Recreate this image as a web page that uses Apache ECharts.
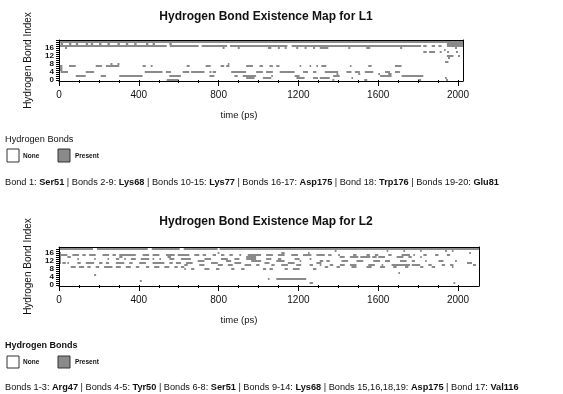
<!DOCTYPE html>
<html>
<head>
<meta charset="utf-8">
<script src="https://cdn.jsdelivr.net/npm/echarts@6/dist/echarts.min.js"></script>
<style>
  html, body { margin: 0; padding: 0; background: #fff; }
  #chart { width: 563px; height: 394px; }
</style>
</head>
<body>
<div id="chart"></div>
<script>
// tick values / labels
const xMajorTicks = [0, 400, 800, 1200, 1600, 2000];
const xMinorTicks = [0, 100, 200, 300, 400, 500, 600, 700, 800, 900, 1000, 1100, 1200, 1300, 1400, 1500, 1600, 1700, 1800, 1900, 2000];
const yLabelValues = [0, 4, 8, 12, 16];
const yTicksL1 = [0, 1, 2, 3, 4, 5, 6, 7, 8, 9, 10, 11, 12, 13, 14, 15, 16, 17, 18, 19, 20];
const yTicksL2 = [0, 1, 2, 3, 4, 5, 6, 7, 8, 9, 10, 11, 12, 13, 14, 15, 16, 17, 18];

// L1: for each bond index, the time spans (ps) where the bond is present
const l1Rows = [
  /* 0 */ [[540, 600], [1370, 1380], [1530, 1545], [1800, 1815], [1940, 1950]],
  /* 1 */ [[938, 980], [1022, 1064], [1190, 1231], [1273, 1298], [1307, 1357], [1466, 1474], [1935, 1944]],
  /* 2 */ [[84, 134], [209, 235], [302, 419], [553, 611], [754, 779], [879, 896], [921, 988], [1064, 1072], [1181, 1206], [1374, 1407], [1609, 1667], [1717, 1826]],
  /* 3 */ [[1391, 1400], [1500, 1510], [1600, 1609], [1650, 1667]],
  /* 4 */ [[8, 45], [134, 176], [430, 519], [536, 561], [620, 653], [662, 729], [754, 764], [770, 787], [863, 938], [988, 1022], [1038, 1072], [1106, 1181], [1223, 1248], [1273, 1290], [1332, 1399], [1441, 1466], [1483, 1508], [1533, 1575], [1634, 1659], [1684, 1709]],
  /* 5 */ [[5, 17]],
  /* 6 */ [[5, 17]],
  /* 7 */ [[5, 17], [50, 84], [184, 215], [235, 302], [419, 435], [460, 469], [640, 655], [735, 760], [810, 828], [838, 854], [938, 972], [1005, 1022], [1055, 1072], [1089, 1105], [1206, 1214], [1256, 1264], [1290, 1298], [1315, 1340], [1458, 1466], [1550, 1567], [1684, 1717]],
  /* 8 */ [[258, 268], [293, 303], [846, 854]],
  /* 9 */ [[1935, 1952]],
  /* 10 */ [],
  /* 11 */ [[1950, 1960]],
  /* 12 */ [[1944, 1977], [2000, 2010]],
  /* 13 */ [],
  /* 14 */ [[1826, 1843], [1855, 1885], [1908, 1918], [1945, 1955], [1990, 2000]],
  /* 15 */ [[1930, 1938]],
  /* 16 */ [[30, 40], [820, 830], [896, 906], [1047, 1064], [1097, 1107], [1131, 1141], [1189, 1199], [1231, 1241], [1273, 1283], [1307, 1350], [1450, 1460], [1540, 1560], [1710, 1720], [1985, 1995]],
  /* 17 */ [[0, 540], [555, 700], [715, 843], [857, 1145], [1166, 1815], [1826, 1843], [1868, 1885], [1902, 1918], [1944, 2025]],
  /* 18 */ [[8, 20], [50, 62], [84, 96], [134, 146], [159, 171], [201, 213], [243, 255], [293, 305], [335, 347], [377, 389], [436, 448], [469, 481], [553, 565], [1944, 2025]],
  /* 19 */ [[0, 2025]],
  /* 20 */ []
];

// L2
const l2Rows = [
  /* 0 */ [],
  /* 1 */ [[1256, 1273], [1977, 1986]],
  /* 2 */ [[405, 415]],
  /* 3 */ [[1047, 1055], [1089, 1239]],
  /* 4 */ [],
  /* 5 */ [[176, 186]],
  /* 6 */ [[1701, 1709]],
  /* 7 */ [],
  /* 8 */ [[628, 636], [662, 678], [729, 754], [787, 804], [863, 879], [913, 930], [1022, 1038], [1055, 1072], [1131, 1147], [1172, 1206], [1273, 1290]],
  /* 9 */ [[59, 84], [100, 126], [142, 159], [184, 201], [226, 268], [285, 310], [335, 360], [385, 402], [436, 452], [477, 503], [528, 553], [578, 595], [611, 628], [1332, 1349], [1391, 1408], [1466, 1491], [1541, 1567], [1609, 1634], [1675, 1692], [1734, 1751], [1810, 1826], [1868, 1885], [1969, 1977]],
  /* 10 */ [[628, 645], [703, 729], [796, 821], [846, 871], [930, 963], [988, 1005], [1064, 1081], [1114, 1147], [1189, 1214], [1256, 1273], [1307, 1315], [1357, 1374], [1408, 1432], [1458, 1491], [1550, 1583], [1617, 1625], [1667, 1759], [1768, 1810], [1851, 1868], [1918, 1935], [1960, 1977], [2075, 2090]],
  /* 11 */ [[0, 10], [17, 34], [42, 50], [92, 109], [134, 176], [201, 218], [235, 251], [285, 327], [352, 369], [402, 436], [469, 528], [553, 570], [586, 611], [637, 670], [762, 796], [879, 913], [1030, 1055], [1147, 1181], [1290, 1315], [2045, 2070]],
  /* 12 */ [[0, 10], [695, 729], [837, 863], [963, 1013], [1089, 1131], [1206, 1214], [1307, 1324], [1340, 1357], [1416, 1449], [1491, 1525], [1575, 1609], [1634, 1659], [1709, 1742], [1768, 1784], [1835, 1843], [1902, 1927], [1985, 1994]],
  /* 13 */ [[0, 10], [92, 100], [176, 184], [243, 251], [285, 302], [327, 335], [360, 385], [410, 452], [469, 477], [503, 511], [553, 578], [611, 661], [729, 762], [812, 846], [879, 904], [938, 988], [1038, 1064], [1097, 1114], [1181, 1206], [1256, 1265]],
  /* 14 */ [[0, 10], [42, 59], [302, 318], [544, 561], [938, 988], [1407, 1432], [1458, 1500], [1510, 1560], [1570, 1592], [1600, 1634], [1692, 1726], [1751, 1768], [1810, 1818]],
  /* 15 */ [[0, 42], [67, 100], [117, 134], [151, 184], [218, 251], [268, 285], [302, 385], [419, 452], [469, 503], [536, 580], [595, 653], [678, 703], [720, 737], [770, 787], [812, 829], [854, 871], [904, 913], [946, 1013], [1038, 1072], [1097, 1131], [1164, 1198], [1223, 1265], [1290, 1332], [1349, 1366], [1399, 1408], [1474, 1491], [1541, 1558], [1583, 1600], [1650, 1667], [1717, 1759], [1776, 1784], [1826, 1843], [1885, 1902], [1944, 1960]],
  /* 16 */ [[0, 10], [795, 804], [1114, 1131], [1248, 1256], [2056, 2065]],
  /* 17 */ [[1382, 1391], [1642, 1650], [1726, 1734], [1810, 1818], [1935, 1944], [1969, 1977]],
  /* 18 */ [[0, 170], [190, 445], [465, 605], [625, 795], [805, 2105]],
  /* 19 */ [[713, 2105]]
];

const l1Bonds = 'Bond 1: {b|Ser51} | Bonds 2-9: {b|Lys68} | Bonds 10-15: {b|Lys77} | Bonds 16-17: {b|Asp175} | Bond 18: {b|Trp176} | Bonds 19-20: {b|Glu81}';
const l2Bonds = 'Bonds 1-3: {b|Arg47} | Bonds 4-5: {b|Tyr50} | Bonds 6-8: {b|Ser51} | Bonds 9-14: {b|Lys68} | Bonds 15,16,18,19: {b|Asp175} | Bond 17: {b|Val116}';

const FONT = "'Liberation Sans', Arial, Helvetica, sans-serif";
const cellColor = '#8a8a8a';

function toCells(rows) {
  const out = [];
  rows.forEach(function (segs, row) {
    segs.forEach(function (s) { out.push([s[0], s[1], row]); });
  });
  return out;
}

function renderCell(params, api) {
  const p0 = api.coord([api.value(0), api.value(2) + 0.5]);
  const p1 = api.coord([api.value(1), api.value(2) - 0.5]);
  return {
    type: 'rect',
    shape: { x: p0[0], y: p0[1], width: p1[0] - p0[0], height: p1[1] - p0[1] },
    style: { fill: cellColor }
  };
}

function xAxes(grid, max) {
  const base = { type: 'value', gridIndex: grid, min: 0, max: max, z: 5, splitLine: { show: false } };
  return [
    Object.assign({}, base, {
      position: 'bottom',
      axisLine: { show: true, onZero: false, lineStyle: { color: '#000', width: 1 } },
      axisTick: { show: true, customValues: xMajorTicks, length: 5, lineStyle: { color: '#000' } },
      axisLabel: {
        customValues: xMajorTicks, fontSize: 10, fontFamily: FONT, color: '#111', margin: 9,
        formatter: function (v) { return String(v); }
      }
    }),
    Object.assign({}, base, {
      position: 'bottom',
      axisLine: { show: false },
      axisTick: { show: true, customValues: xMinorTicks, length: 3, lineStyle: { color: '#000' } },
      axisLabel: { show: false }
    }),
    Object.assign({}, base, {
      position: 'top',
      axisLine: { show: true, onZero: false, lineStyle: { color: '#000', width: 1 } },
      axisTick: { show: false },
      axisLabel: { show: false }
    })
  ];
}

function yAxes(grid, max, ticks) {
  const base = { type: 'value', gridIndex: grid, min: -0.5, max: max, z: 5, splitLine: { show: false } };
  return [
    Object.assign({}, base, {
      position: 'left',
      name: 'Hydrogen Bond Index',
      nameLocation: 'middle',
      nameGap: 26,
      nameTextStyle: { fontSize: 10, fontFamily: FONT, color: '#111' },
      axisLine: { show: true, onZero: false, lineStyle: { color: '#000', width: 1 } },
      axisTick: { show: true, customValues: ticks, length: 3, lineStyle: { color: '#000' } },
      axisLabel: { customValues: yLabelValues, fontSize: 8, fontWeight: 'bold', fontFamily: FONT, color: '#111', margin: 5 }
    }),
    Object.assign({}, base, {
      position: 'right',
      axisLine: { show: true, onZero: false, lineStyle: { color: '#000', width: 1 } },
      axisTick: { show: false },
      axisLabel: { show: false }
    })
  ];
}

function txt(x, y, text, size, weight, extra) {
  return {
    type: 'text',
    x: x, y: y,
    style: Object.assign({
      text: text, fill: '#111', fontSize: size, fontWeight: weight || 'normal', fontFamily: FONT,
      textAlign: 'left', textVerticalAlign: 'middle'
    }, extra || {})
  };
}

function legendBox(x, y, h, fill) {
  return { type: 'rect', shape: { x: x, y: y, width: 12, height: h }, style: { fill: fill, stroke: '#333', lineWidth: 1 } };
}

const chart = echarts.init(document.getElementById('chart'));

const boldRich = { b: { fontWeight: 'bold', fontSize: 9.2, fontFamily: FONT, fill: '#111' } };

const option = {
  animation: false,
  backgroundColor: '#fff',
  grid: [
    { left: 59, top: 40, width: 404, height: 41 },
    { left: 59, top: 247, width: 420, height: 39 }
  ],
  xAxis: xAxes(0, 2025).concat(xAxes(1, 2105)),
  yAxis: yAxes(0, 20, yTicksL1).concat(yAxes(1, 19, yTicksL2)),
  series: [
    {
      type: 'custom', name: 'L1', xAxisIndex: 0, yAxisIndex: 0, clip: true, z: 1,
      renderItem: renderCell, encode: { x: [0, 1], y: 2 }, data: toCells(l1Rows)
    },
    {
      type: 'custom', name: 'L2', xAxisIndex: 3, yAxisIndex: 2, clip: true, z: 1,
      renderItem: renderCell, encode: { x: [0, 1], y: 2 }, data: toCells(l2Rows)
    }
  ],
  graphic: [
    txt(266, 17, 'Hydrogen Bond Existence Map for L1', 12, 'bold', { textAlign: 'center' }),
    txt(239, 115, 'time (ps)', 9.5, 'normal', { textAlign: 'center' }),
    txt(5, 139, 'Hydrogen Bonds', 9.2),
    legendBox(7, 149, 13, '#fff'),
    txt(23, 156, 'None', 6.5, 'bold'),
    legendBox(58, 149, 13, cellColor),
    txt(75, 156, 'Present', 6.5, 'bold'),
    txt(5, 182, l1Bonds, 9.2, 'normal', { rich: boldRich }),

    txt(266, 222, 'Hydrogen Bond Existence Map for L2', 12, 'bold', { textAlign: 'center' }),
    txt(239, 320, 'time (ps)', 9.5, 'normal', { textAlign: 'center' }),
    txt(5, 346, 'Hydrogen Bonds', 9, 'bold'),
    legendBox(7, 356, 12, '#fff'),
    txt(23, 362, 'None', 6.5, 'bold'),
    legendBox(58, 356, 12, cellColor),
    txt(75, 362, 'Present', 6.5, 'bold'),
    txt(5, 387, l2Bonds, 9.2, 'normal', { rich: boldRich })
  ]
};

chart.setOption(option);
</script>
</body>
</html>
